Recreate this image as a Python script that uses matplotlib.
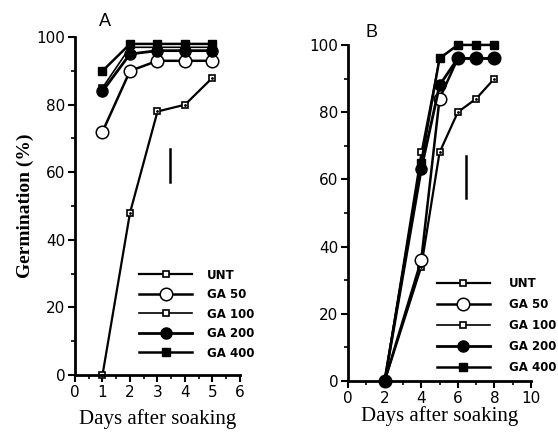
import numpy as np
import matplotlib.pyplot as plt
from matplotlib.ticker import MultipleLocator

# panel A data
days_a = [1, 2, 3, 4, 5]
unt_a = [0, 48, 78, 80, 88]
ga50_a = [72, 90, 93, 93, 93]
ga100_a = [85, 97, 97, 97, 97]
ga200_a = [84, 95, 96, 96, 96]
ga400_a = [90, 98, 98, 98, 98]

# panel B data
days_b = [2, 4, 5, 6, 7, 8]
unt_b = [0, 34, 68, 80, 84, 90]
ga50_b = [0, 36, 84, 96, 96, 96]
ga100_b = [0, 68, 96, 100, 100, 100]
ga200_b = [0, 63, 88, 96, 96, 96]
ga400_b = [0, 65, 96, 100, 100, 100]

labels = ['UNT', 'GA 50', 'GA 100', 'GA 200', 'GA 400']

styles = [
    dict(marker='s', ms=5, mfc='white', mec='black', mew=1.2, lw=1.6),
    dict(marker='o', ms=9, mfc='white', mec='black', mew=1.1, lw=1.8),
    dict(marker='s', ms=4.5, mfc='white', mec='black', mew=1.2, lw=1.2),
    dict(marker='o', ms=8, mfc='black', mec='black', lw=2.0),
    dict(marker='s', ms=6, mfc='black', mec='black', lw=1.8),
]

fig = plt.figure(figsize=(5.58, 4.32), dpi=100)
axA = fig.add_axes([0.1344, 0.132, 0.2957, 0.782])
axB = fig.add_axes([0.6237, 0.118, 0.328, 0.778])


def draw(ax, days, series, xmax, xmaj, xmin_step, leg_anchor, spacing, textpad, xlpad):
    handles = []
    for y, st in zip(series, styles):
        h, = ax.plot(days, y, color='black', clip_on=False, **st)
        handles.append(h)
    # dots inside the UNT squares
    ax.plot(days, series[0], ls='none', marker='.', ms=2, color='black', clip_on=False)
    ax.set_xlim(0, xmax)
    ax.set_ylim(0, 100)
    ax.xaxis.set_major_locator(MultipleLocator(xmaj))
    ax.xaxis.set_minor_locator(MultipleLocator(xmin_step))
    ax.yaxis.set_major_locator(MultipleLocator(20))
    ax.yaxis.set_minor_locator(MultipleLocator(10))
    for s in ['top', 'right']:
        ax.spines[s].set_visible(False)
    for s in ['left', 'bottom']:
        ax.spines[s].set_linewidth(2)
    ax.tick_params(which='major', direction='out', length=5, width=1.5, pad=2)
    ax.tick_params(which='minor', direction='out', length=3, width=1.2)
    for t in ax.get_xticklabels() + ax.get_yticklabels():
        t.set_fontfamily('DejaVu Sans')
        t.set_fontsize(11)
    ax.set_xlabel('Days after soaking', fontfamily='Liberation Serif', fontsize=15, labelpad=xlpad)
    ax.legend(handles, labels, loc='upper left', bbox_to_anchor=leg_anchor,
              frameon=False, handlelength=4.5, labelspacing=spacing,
              handletextpad=textpad, borderpad=0, borderaxespad=0,
              prop=dict(family='DejaVu Sans', size=8.5, weight='bold'))


draw(axA, days_a, [unt_a, ga50_a, ga100_a, ga200_a, ga400_a], 6, 1, 0.5,
     (0.39, 0.315), 0.55, 1.2, 7)
draw(axB, days_b, [unt_b, ga50_b, ga100_b, ga200_b, ga400_b], 10, 2, 1,
     (0.485, 0.31), 0.68, 1.6, 0)

# significance bars
axA.plot([3.45, 3.45], [57, 67], color='black', lw=1.8)
axB.plot([6.45, 6.45], [54.5, 67], color='black', lw=1.8)

axA.set_ylabel('Germination (%)', fontfamily='Liberation Serif', fontsize=14,
               fontweight='bold', labelpad=2)

fig.text(0.178, 0.94, 'A', fontfamily='Liberation Sans', fontsize=13)
fig.text(0.655, 0.915, 'B', fontfamily='Liberation Sans', fontsize=13)

fig.savefig('out.png', dpi=100)
